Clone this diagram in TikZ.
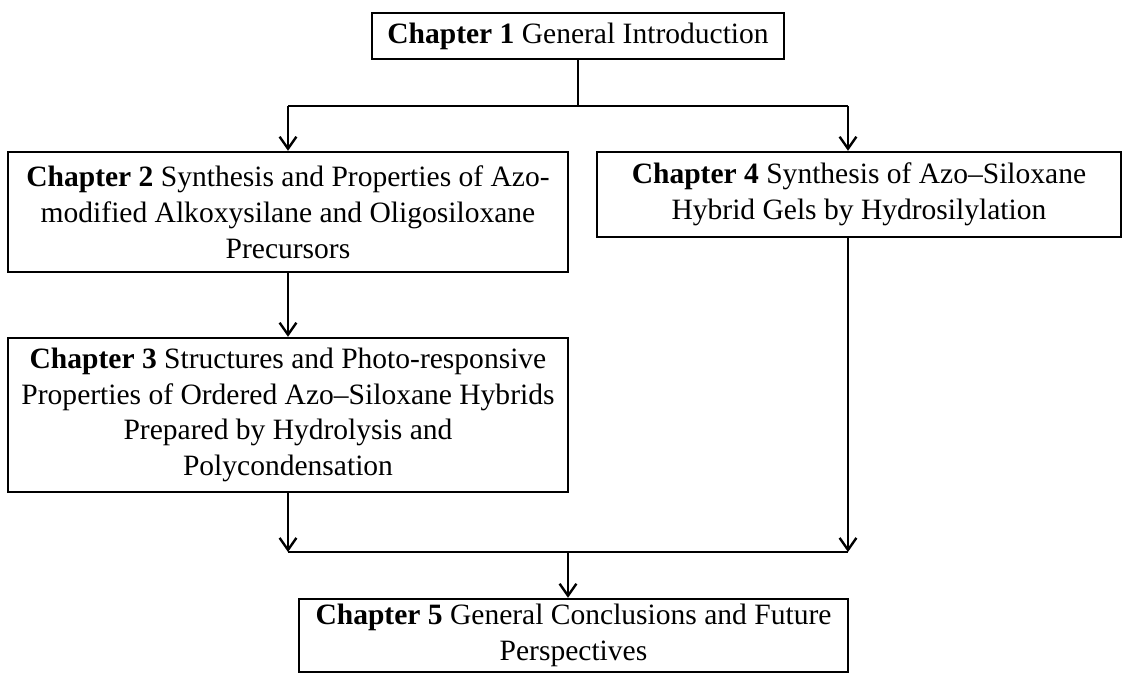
\documentclass[tikz,border=0pt]{standalone}
\usepackage{fontspec}
\setmainfont{Liberation Serif}
\usetikzlibrary{arrows.meta}
\begin{document}
\begin{tikzpicture}[x=0.025cm,y=-0.025cm,
    chapbox/.style={draw,line width=1.7pt,align=center,inner sep=0pt,
      font=\fontsize{21}{25.5}\selectfont},
    flow/.style={line width=1.7pt},
    flowarrow/.style={flow,-{Straight Barb[length=3mm,width=4.2mm]}}]
    \useasboundingbox (0,0) rectangle (1124,676);
    \node[chapbox,minimum width=10.3cm,minimum height=1.15cm] (c1) at (578,36) {\textbf{Chapter 1} General Introduction};
    \node[chapbox,minimum width=14cm,minimum height=3cm] (c2) at (288,212) {\textbf{Chapter 2} Synthesis and Properties of Azo-\\modified Alkoxysilane and Oligosiloxane\\Precursors};
    \node[chapbox,minimum width=13.1cm,minimum height=2.125cm] (c4) at (859,194.5) {\textbf{Chapter 4} Synthesis of Azo--Siloxane\\Hybrid Gels by Hydrosilylation};
    \node[chapbox,minimum width=14cm,minimum height=3.85cm] (c3) at (288,415) {\textbf{Chapter 3} Structures and Photo-responsive\\Properties of Ordered Azo--Siloxane Hybrids\\Prepared by Hydrolysis and\\Polycondensation};
    \node[chapbox,minimum width=13.725cm,minimum height=1.825cm] (c5) at (573.5,635.5) {\textbf{Chapter 5} General Conclusions and Future\\Perspectives};

    \coordinate (split) at (578,106);
    \coordinate (splitL) at (288,106);
    \coordinate (splitR) at (848,106);
    \coordinate (mergeL) at (288,552);
    \coordinate (mergeR) at (848,552);
    \coordinate (merge) at (568,552);

    \draw[flow] (c1) -- (split);
    \draw[flow] (splitL) -- (splitR);
    \draw[flowarrow] (splitL) -- (c2);
    \draw[flowarrow] (splitR) -- (splitR |- c4.north);
    \draw[flowarrow] (c2) -- (c3);
    \draw[flowarrow] (c3) -- (mergeL);
    \draw[flowarrow] (c4.south -| mergeR) -- (mergeR);
    \draw[flow] (mergeL) -- (mergeR);
    \draw[flowarrow] (merge) -- (merge |- c5.north);
\end{tikzpicture}
\end{document}
